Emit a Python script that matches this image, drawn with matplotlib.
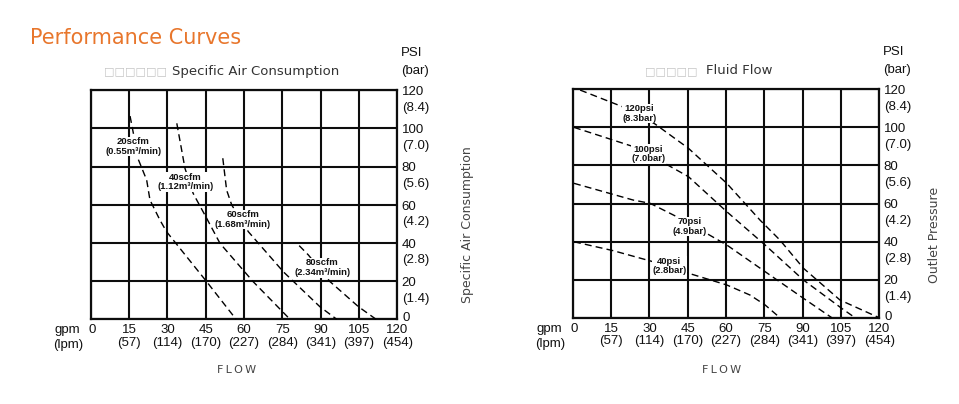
import matplotlib
matplotlib.use('Agg')
import matplotlib.pyplot as plt

# ---- data ----
gpm_ticks = [0, 15, 30, 45, 60, 75, 90, 105, 120]
lpm_labels = ['', '(57)', '(114)', '(170)', '(227)', '(284)', '(341)', '(397)', '(454)']
psi_ticks = [0, 20, 40, 60, 80, 100, 120]
bar_labels = ['', '(1.4)', '(2.8)', '(4.2)', '(5.6)', '(7.0)', '(8.4)']

# specific air consumption curves (gpm, psi)
air_labels = ['20scfm\n(0.55m³/min)', '40scfm\n(1.12m³/min)',
              '60scfm\n(1.68m³/min)', '80scfm\n(2.34m³/min)']
air_gpm = [[15.4, 16.7, 18.2, 21.9, 23.2, 27.1, 29.7, 45.4, 56.9],
           [33.7, 36.9, 40.1, 41.5, 45.4, 50.6, 63.6, 78.0],
           [51.7, 53.2, 55.2, 61.7, 75.4, 89.7, 96.3],
           [81.6, 85.2, 93.7, 104.8, 111.7]]
air_psi = [[106.5, 97.5, 85.2, 73.0, 62.5, 52.0, 45.9, 19.7, 0.0],
           [102.7, 79.1, 66.0, 62.5, 52.9, 39.8, 19.7, 0.0],
           [84.4, 67.7, 59.9, 45.9, 24.9, 6.6, 0.0],
           [38.6, 33.7, 19.7, 6.6, 0.0]]
air_label_gpm = [16.7, 37.2, 59.5, 90.7]
air_label_psi = [90.5, 72.0, 52.2, 27.0]

# fluid flow curves (gpm, psi)
flow_labels = ['120psi\n(8.3bar)', '100psi\n(7.0bar)', '70psi\n(4.9bar)', '40psi\n(2.8bar)']
flow_gpm = [[2.9, 21.1, 32.2, 45.3, 60.3, 73.3, 81.1, 90.3, 104.6, 119.6],
            [0.5, 23.7, 34.8, 45.3, 60.3, 75.3, 90.3, 105.3, 110.5],
            [0.5, 23.7, 30.3, 42.0, 52.4, 60.3, 75.3, 90.3, 101.4],
            [0.5, 15.9, 31.5, 43.3, 60.3, 69.4, 75.3, 81.1]]
flow_psi = [[119.6, 110.0, 101.8, 89.0, 70.6, 51.3, 40.8, 26.0, 9.3, 0.2],
            [100.0, 89.9, 82.0, 74.1, 55.7, 38.2, 19.8, 4.9, 0.0],
            [70.6, 61.8, 60.1, 52.2, 44.3, 38.2, 24.2, 10.2, 0.0],
            [39.9, 35.2, 29.4, 24.2, 17.2, 11.9, 6.7, 0.0]]
flow_label_gpm = [26.1, 29.6, 45.9, 37.8]
flow_label_psi = [107.3, 86.0, 48.0, 27.1]

W, H = 959, 404
narrow = 'Liberation Sans'

fig = plt.figure(figsize=(W / 100, H / 100), dpi=100)


def px(x, y):
    return x / W, 1 - y / H


def panel(left, top, bottom, curves_x, curves_y, labels, lab_x, lab_y, subtitle_boxes,
          subtitle, box_right, text_left, side_label, side_x, side_y, flow_x):
    right = left + 306.6
    ax = fig.add_axes([left / W, 1 - bottom / H, (right - left) / W, (bottom - top) / H])
    ax.set_xlim(0, 120)
    ax.set_ylim(0, 120)
    ax.set_xticks(gpm_ticks)
    ax.set_yticks(psi_ticks)
    ax.tick_params(length=0, labelbottom=False, labelleft=False)
    ax.grid(True, color='#0d0d0d', lw=1.5)
    for s in ax.spines.values():
        s.set_linewidth(1.6)
        s.set_color('#0d0d0d')

    for xs, ys in zip(curves_x, curves_y):
        ax.plot(xs, ys, color='black', lw=1.0, ls=(0, (5, 3)), zorder=3, clip_on=False)
    for lab, lx, ly in zip(labels, lab_x, lab_y):
        ax.text(lx, ly, lab, ha='center', va='center', fontsize=6.8, family=narrow,
                fontweight='bold', linespacing=1.1, zorder=4, color='#111111',
                bbox=dict(facecolor='white', edgecolor='none', pad=0.3))

    tk = dict(family=narrow, fontsize=9.5, color='#111111')
    for g, l in zip(gpm_ticks, lpm_labels):
        ax.annotate(str(g), xy=(g, 0), xycoords=('data', 'axes fraction'),
                    xytext=(0.8 if g == 0 else 0, -8.0), textcoords='offset points',
                    ha='center', va='center', **tk)
        if l:
            ax.annotate(l, xy=(g, 0), xycoords=('data', 'axes fraction'),
                        xytext=(0, -17.0), textcoords='offset points',
                        ha='center', va='center', **tk)
    ax.annotate('gpm', xy=(0, 0), xycoords='axes fraction', xytext=(-16.5, -8.0),
                textcoords='offset points', ha='center', va='center', **tk)
    ax.annotate('(lpm)', xy=(0, 0), xycoords='axes fraction', xytext=(-16.5, -18.8),
                textcoords='offset points', ha='center', va='center', **tk)
    for p, b in zip(psi_ticks, bar_labels):
        ax.annotate(str(p), xy=(1, p), xycoords=('axes fraction', 'data'),
                    xytext=(3.6 if p == 0 else 3.2, -1.3 if p else 0.6),
                    textcoords='offset points', ha='left', va='center', **tk)
        if b:
            ax.annotate(b, xy=(1, p), xycoords=('axes fraction', 'data'),
                        xytext=(3.2, -12.6), textcoords='offset points',
                        ha='left', va='center', **tk)
    fig.text(*px(right + 4, top - 37), 'PSI', ha='left', va='center', **tk)
    fig.text(*px(right + 4, top - 19.5), '(bar)', ha='left', va='center', **tk)

    fig.text(*px(box_right, 71), subtitle_boxes, ha='right', va='center',
             fontsize=8, color='#c4c4c4', family='DejaVu Sans')
    fig.text(*px(text_left, 71), subtitle, ha='left', va='center',
             fontsize=9.5, color='#333333', family='DejaVu Sans')
    fig.text(*px(flow_x, 370), '\u2009'.join('FLOW'), ha='center', va='center',
             fontsize=8, color='#444444', family='DejaVu Sans')
    fig.text(*px(side_x, side_y), side_label, ha='center', va='center', rotation=90,
             fontsize=9, color='#444444', family='DejaVu Sans')
    return ax


panel(90.7, 90.3, 319.3, air_gpm, air_psi, air_labels, air_label_gpm, air_label_psi,
      '□□□□□□', 'Specific Air Consumption', 167, 172,
      'Specific Air Consumption', 467, 225, 237)
panel(572.7, 89.3, 317.7, flow_gpm, flow_psi, flow_labels, flow_label_gpm, flow_label_psi,
      '□□□□□', 'Fluid Flow', 698, 706,
      'Outlet Pressure', 935, 235, 722)

fig.text(*px(30, 38.5), 'Performance Curves', ha='left', va='center',
         fontsize=15, color='#e8762c', family='DejaVu Sans')

fig.savefig('out.png', dpi=100)
